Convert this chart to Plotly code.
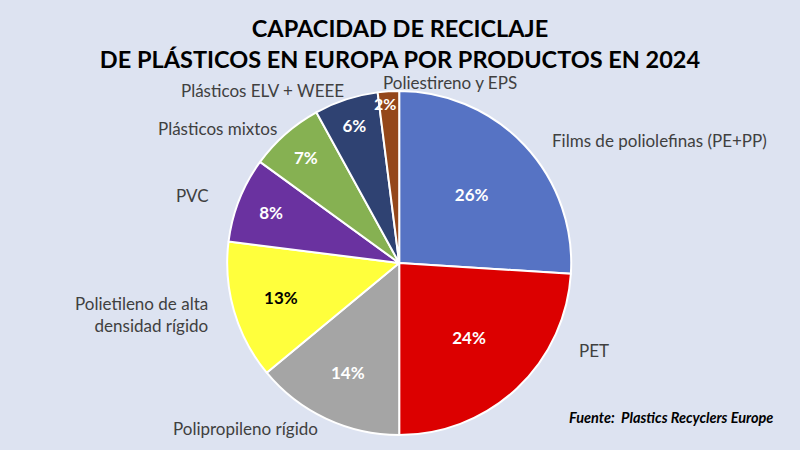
import plotly.graph_objects as go

# datos (capacidad de reciclaje por producto, %)
productos = ["Films de poliolefinas (PE+PP)", "PET", "Polipropileno rígido",
             "Polietileno de alta densidad rígido", "PVC", "Plásticos mixtos",
             "Plásticos ELV + WEEE", "Poliestireno y EPS"]
valores = [26, 24, 14, 13, 8, 7, 6, 2]
colores = ["#5673c4", "#dc0000", "#a5a5a5", "#ffff3c", "#6a32a0", "#86b152", "#2f4272", "#94471a"]
color_texto = ["white", "white", "white", "black", "white", "white", "white", "white"]

total = sum(valores)
# el 2% no cabe dentro de su sector; se pone aparte
textos = [f"{v / total:.0%}" for v in valores]
textos[-1] = ""

fig = go.Figure(go.Pie(
    labels=productos,
    values=valores,
    sort=False,
    direction="clockwise",
    rotation=0,
    marker=dict(colors=colores, line=dict(color="white", width=2)),
    text=textos,
    textinfo="text",
    textposition="inside",
    insidetextorientation="horizontal",
    textfont=dict(family="Lato", size=17, color=color_texto, weight="bold"),
    showlegend=False,
    hoverinfo="label+percent",
    domain=dict(x=[0.284, 0.714], y=[0.033, 0.798]),
))

fig.add_annotation(
    text=f"<b>{valores[-1] / total:.0%}</b>", x=385 / 800, y=1 - 103 / 450,
    xref="paper", yref="paper", xanchor="center", yanchor="middle", showarrow=False,
    font=dict(family="Lato", size=16, color="white"),
)

# etiquetas de categoria fuera del pastel
etiquetas = [
    ("Films de poliolefinas (PE+PP)", 659, 140, "center"),
    ("PET", 594, 350, "center"),
    ("Polipropileno rígido", 245, 428, "center"),
    ("Polietileno de alta<br>densidad rígido", 210, 314, "right"),
    ("PVC", 192, 195, "center"),
    ("Plásticos mixtos", 217, 128, "center"),
    ("Plásticos ELV + WEEE", 262, 91, "center"),
    ("Poliestireno y EPS", 450, 83, "center"),
]
for txt, px_, py_, al in etiquetas:
    fig.add_annotation(
        text=txt, x=px_ / 800, y=1 - py_ / 450, xref="paper", yref="paper",
        xanchor="right" if al == "right" else "center", yanchor="middle",
        align=al, showarrow=False,
        font=dict(family="Lato", size=17, color="#404040"),
    )

fig.add_annotation(
    text="<b><i>Fuente:  Plastics Recyclers Europe</i></b>",
    x=671 / 800, y=1 - 417 / 450, xref="paper", yref="paper",
    xanchor="center", yanchor="middle",
    showarrow=False, font=dict(family="Lato", size=14.5, color="black"),
)

fig.update_layout(
    width=800, height=450,
    margin=dict(l=0, r=0, t=0, b=0),
    paper_bgcolor="#dde3f1",
    plot_bgcolor="#dde3f1",
    title=dict(
        text="<b>CAPACIDAD DE RECICLAJE<br>DE PLÁSTICOS EN EUROPA POR PRODUCTOS EN 2024</b>",
        x=0.5, xanchor="center", y=1 - 37 / 450, yanchor="middle",
        font=dict(family="Lato", size=23.5, color="black"),
    ),
)

fig.write_html("out.html", config={"displayModeBar": False},
               post_script="document.body.style.margin='0';")
